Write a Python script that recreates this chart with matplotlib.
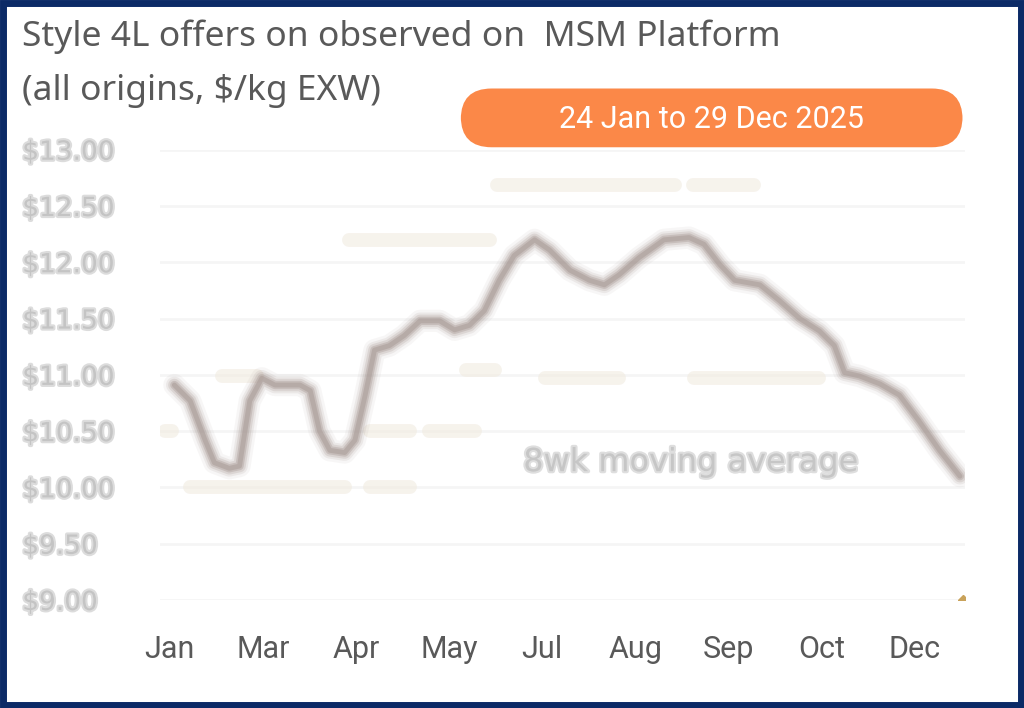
import matplotlib
matplotlib.use("Agg")
import matplotlib.pyplot as plt
import matplotlib.patheffects as pe
from matplotlib.patches import FancyBboxPatch, Rectangle

# ---- data (x is in label slots, 0 = Jan ... 8 = Dec) ----
month_labels = ["Jan", "Mar", "Apr", "May", "Jul", "Aug", "Sep", "Oct", "Dec"]
y_ticks = [9.0, 9.5, 10.0, 10.5, 11.0, 11.5, 12.0, 12.5, 13.0]
y_tick_labels = ["$9.00", "$9.50", "$10.00", "$10.50", "$11.00", "$11.50", "$12.00", "$12.50", "$13.00"]

ma_x = [0.05, 0.22, 0.38, 0.48, 0.64, 0.75, 0.86, 0.99, 1.13, 1.40, 1.51, 1.61,
        1.72, 1.88, 1.99, 2.10, 2.20, 2.36, 2.52, 2.69, 2.90, 3.06, 3.22, 3.38,
        3.54, 3.70, 3.92, 4.08, 4.30, 4.51, 4.67, 4.83, 5.04, 5.31, 5.58, 5.74,
        5.91, 6.07, 6.34, 6.55, 6.77, 6.98, 7.14, 7.25, 7.41, 7.63, 7.84, 8.05,
        8.27, 8.49]
ma_y = [10.91, 10.77, 10.42, 10.22, 10.17, 10.19, 10.77, 10.97, 10.91, 10.91,
        10.86, 10.50, 10.33, 10.31, 10.42, 10.82, 11.22, 11.26, 11.35, 11.48,
        11.48, 11.40, 11.44, 11.57, 11.84, 12.06, 12.20, 12.11, 11.93, 11.84,
        11.80, 11.89, 12.04, 12.20, 12.22, 12.16, 11.98, 11.84, 11.80, 11.66,
        11.50, 11.39, 11.26, 11.02, 10.99, 10.92, 10.82, 10.59, 10.33, 10.10]

# faint (blurred) data labels: start, end, level
lab_x0 = [3.52, 5.62, 1.93, -0.05, 0.56, 3.18, 4.03, 5.63, 2.15, 2.79, 0.22, 2.15]
lab_x1 = [5.43, 6.28, 3.44, 0.02, 0.94, 3.50, 4.83, 6.98, 2.58, 3.28, 1.88, 2.58]
lab_y = [12.69, 12.69, 12.20, 10.50, 10.99, 11.04, 10.97, 10.97, 10.50, 10.50, 10.00, 10.00]

fig = plt.figure(figsize=(10.24, 7.08), dpi=100)
fig.patch.set_facecolor("white")

ax = fig.add_axes([0.156, 0.1525, 0.786, 0.636])
ax.set_xlim(-0.107, 8.54)
ax.set_ylim(9.0, 13.0)

for v in y_ticks:
    ax.axhline(v, color="#f5f5f5", lw=2, zorder=0)

for a, b, c in zip(lab_x0, lab_x1, lab_y):
    ax.plot([a, b], [c, c], color="#f1ebe0", lw=10, alpha=0.6, solid_capstyle="round", zorder=1)

# blurred moving-average line
for w, al in [(16, 0.08), (12, 0.14), (9, 0.22), (6, 0.35), (3.5, 0.45)]:
    ax.plot(ma_x, ma_y, color="#a39490", lw=w, alpha=al, solid_joinstyle="round",
            solid_capstyle="round", zorder=3)

ax.plot([8.52], [9.0], marker="D", color="#c9a25a", ms=5, zorder=4)

ax.text(5.6, 10.22, "8wk moving average", fontsize=23, color="#c6c6c6",
        ha="center", va="center", zorder=2,
        path_effects=[pe.withStroke(linewidth=3, foreground="#dedede")])

ax.set_xticks(range(len(month_labels)))
ax.set_xticklabels(month_labels, fontsize=22, color="#595959", family="Roboto")
ax.set_yticks(y_ticks)
ax.set_yticklabels(y_tick_labels, fontsize=19, color="#c4c4c4")
ax.tick_params(length=0)
ax.tick_params(axis="x", pad=25)
ax.tick_params(axis="y", pad=99)
for lbl in ax.get_yticklabels():
    lbl.set_horizontalalignment("left")
    lbl.set_path_effects([pe.withStroke(linewidth=3, foreground="#dcdcdc")])
for s in ax.spines.values():
    s.set_visible(False)

# titles
fig.text(0.021, 0.948, "Style 4L offers on observed on  MSM Platform", fontsize=25.5,
         color="#595959", family="Noto Sans", va="center")
fig.text(0.021, 0.872, "(all origins, $/kg EXW)", fontsize=25.5,
         color="#595959", family="Noto Sans", va="center")

# orange badge
badge = FancyBboxPatch((0.450, 0.792), 0.490, 0.083, boxstyle="round,pad=0,rounding_size=0.03",
                       transform=fig.transFigure, facecolor="#fb8848", edgecolor="none",
                       mutation_aspect=1.45)
fig.patches.append(badge)
fig.text(0.695, 0.831, "24 Jan to 29 Dec 2025", fontsize=22, color="white",
         family="Roboto", ha="center", va="center")

# navy frame
fig.patches.append(Rectangle((0.003, 0.004), 0.994, 0.992, transform=fig.transFigure,
                             fill=False, edgecolor="#0b2a66", lw=5))

fig.savefig("out.png", dpi=100)
